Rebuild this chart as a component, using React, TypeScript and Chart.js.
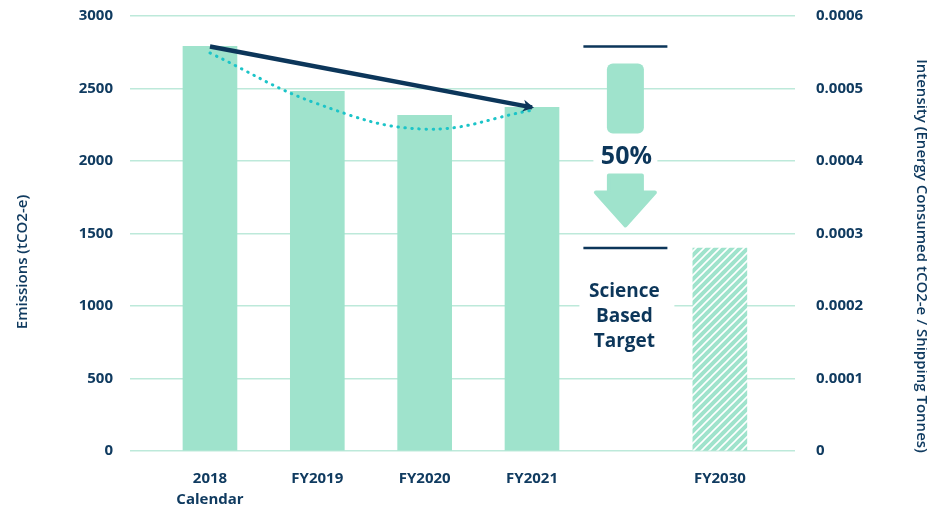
import React, { useEffect, useRef } from 'react';
import { Chart, registerables } from 'chart.js';

Chart.register(...registerables);

const categoryLabels: (string | string[])[] = [['2018', 'Calendar'], 'FY2019', 'FY2020', 'FY2021', 'FY2030'];
const categoryPositions = [0, 1, 2, 3, 4.75];
const emissions = [2790, 2480, 2315, 2370, 1400];
const intensity = [0.000549, 0.000479, 0.000444, 0.00047];
const emissionsTicks = { min: 0, max: 3000, step: 500 };
const intensityTicks = { min: 0, max: 0.0006, step: 0.0001 };
const targetPercent = '50%';
const targetText = ['Science', 'Based', 'Target'];
const leftTitle = 'Emissions (tCO2-e)';
const rightTitle = 'Intensity (Energy Consumed tCO2-e / Shipping Tonnes)';

const MINT = '#9fe3cc';
const NAVY = '#0c365a';
const TEXT = '#103b60';
const GRID = '#bde9da';
const CYAN = '#1cc4c8';
const FONT = '"Open Sans", sans-serif';

function makeHatch(): CanvasPattern | string {
  const tile = document.createElement('canvas');
  tile.width = 8;
  tile.height = 8;
  const c = tile.getContext('2d');
  if (!c) return MINT;
  c.fillStyle = MINT;
  c.fillRect(0, 0, 8, 8);
  c.strokeStyle = '#ffffff';
  c.lineWidth = 1.6;
  c.beginPath();
  c.moveTo(-2, 10);
  c.lineTo(10, -2);
  c.moveTo(-2, 2);
  c.lineTo(2, -2);
  c.moveTo(6, 10);
  c.lineTo(10, 6);
  c.stroke();
  const p = c.createPattern(tile, 'repeat');
  return p || MINT;
}

const arrowHeadPlugin = {
  id: 'arrowHead',
  afterDatasetsDraw(chart: any) {
    const meta = chart.getDatasetMeta(0);
    if (!meta || !meta.data || meta.data.length < 2) return;
    const a = meta.data[0];
    const b = meta.data[meta.data.length - 1];
    const ang = Math.atan2(b.y - a.y, b.x - a.x);
    const ctx = chart.ctx;
    ctx.save();
    ctx.translate(b.x + 2, b.y + 0.4);
    ctx.rotate(ang);
    ctx.fillStyle = NAVY;
    ctx.beginPath();
    ctx.moveTo(0, 0);
    ctx.lineTo(-11, -6);
    ctx.lineTo(-8, 0);
    ctx.lineTo(-11, 6);
    ctx.closePath();
    ctx.fill();
    ctx.restore();
  },
};

const annoX = 3.87;

const targetPlugin = {
  id: 'targetGraphic',
  afterDatasetsDraw(chart: any) {
    const { ctx, scales } = chart;
    const x = scales.x;
    const y = scales.y;
    const cx = x.getPixelForValue(annoX);
    const yTop = y.getPixelForValue(emissions[0]);
    const yBot = y.getPixelForValue(emissions[4]);
    ctx.save();
    ctx.strokeStyle = NAVY;
    ctx.lineWidth = 2.5;
    ctx.beginPath();
    ctx.moveTo(cx - 42, yTop);
    ctx.lineTo(cx + 42, yTop);
    ctx.moveTo(cx - 42, yBot);
    ctx.lineTo(cx + 42, yBot);
    ctx.stroke();

    ctx.fillStyle = MINT;
    ctx.beginPath();
    (ctx as any).roundRect(cx - 18.5, yTop + 17, 37, 70, 6);
    ctx.fill();

    ctx.fillStyle = '#ffffff';
    ctx.fillRect(cx - 32, yTop + 98, 64, 24);
    ctx.fillStyle = NAVY;
    ctx.font = `bold 25px ${FONT}`;
    ctx.textAlign = 'center';
    ctx.textBaseline = 'middle';
    ctx.fillText(targetPercent, cx + 1, yTop + 110);

    ctx.fillStyle = MINT;
    ctx.strokeStyle = MINT;
    ctx.lineJoin = 'round';
    ctx.lineWidth = 4;
    ctx.beginPath();
    ctx.moveTo(cx - 16.5, yTop + 129);
    ctx.lineTo(cx + 16.5, yTop + 129);
    ctx.lineTo(cx + 16.5, yTop + 146);
    ctx.lineTo(cx + 29.5, yTop + 146);
    ctx.lineTo(cx, yTop + 179);
    ctx.lineTo(cx - 29.5, yTop + 146);
    ctx.lineTo(cx - 16.5, yTop + 146);
    ctx.closePath();
    ctx.fill();
    ctx.stroke();

    ctx.fillStyle = '#ffffff';
    ctx.fillRect(cx - 46, yBot + 32, 95, 74);
    ctx.fillStyle = NAVY;
    ctx.font = `bold 19px ${FONT}`;
    targetText.forEach((t, i) => {
      ctx.fillText(t, cx - 1, yBot + 44 + i * 25);
    });
    ctx.restore();
  },
};

const titlePlugin = {
  id: 'axisTitles',
  afterDraw(chart: any) {
    const ctx = chart.ctx;
    ctx.save();
    ctx.fillStyle = TEXT;
    ctx.font = `600 15px ${FONT}`;
    ctx.textAlign = 'center';
    ctx.textBaseline = 'middle';
    ctx.save();
    ctx.translate(23, 262);
    ctx.rotate(-Math.PI / 2);
    ctx.fillText(leftTitle, 0, 0);
    ctx.restore();
    ctx.save();
    ctx.translate(921, 256);
    ctx.rotate(Math.PI / 2);
    ctx.fillText(rightTitle, 0, 0);
    ctx.restore();
    ctx.restore();
  },
};

const tickFont = { family: FONT, size: 15, weight: 700 as any, lineHeight: 1.4 };

export default function App() {
  const ref = useRef<HTMLCanvasElement | null>(null);
  useEffect(() => {
    if (!ref.current) return;
    const hatch = makeHatch();
    const barColors = emissions.map((_, i) => (i === emissions.length - 1 ? hatch : MINT));
    const chart = new Chart(ref.current, {
      type: 'bar',
      data: {
        datasets: [
          {
            type: 'line',
            label: 'Trend',
            data: [
              { x: categoryPositions[0], y: emissions[0] },
              { x: categoryPositions[3], y: emissions[3] },
            ],
            borderColor: NAVY,
            borderWidth: 4.5,
            pointRadius: 0,
            fill: false,
            yAxisID: 'y',
            order: 0,
          } as any,
          {
            type: 'line',
            label: 'Intensity',
            data: intensity.map((v, i) => ({ x: categoryPositions[i], y: v })),
            borderColor: CYAN,
            borderWidth: 3,
            borderDash: [0.5, 6.5],
            borderCapStyle: 'round',
            pointRadius: 0,
            tension: 0.4,
            fill: false,
            yAxisID: 'y1',
            order: 1,
          } as any,
          {
            type: 'bar',
            label: 'Emissions',
            data: emissions.map((v, i) => ({ x: categoryPositions[i], y: v })),
            backgroundColor: barColors as any,
            barThickness: 54,
            yAxisID: 'y',
            order: 2,
          } as any,
        ],
      },
      options: {
        responsive: false,
        animation: false,
        layout: { padding: { top: 16, left: 0, right: 0, bottom: 0 } },
        plugins: { legend: { display: false }, tooltip: { enabled: false } },
        scales: {
          x: {
            type: 'linear',
            min: -0.745,
            max: 5.45,
            offset: false,
            grid: { display: false, drawTicks: false },
            border: { display: false },
            afterBuildTicks: (scale: any) => {
              scale.ticks = categoryPositions.map((v) => ({ value: v }));
            },
            afterFit: (scale: any) => {
              scale.height = 56;
            },
            ticks: {
              autoSkip: false,
              maxRotation: 0,
              padding: 17,
              color: TEXT,
              font: tickFont,
              callback: (_v: any, i: number) => categoryLabels[i],
            },
          },
          y: {
            type: 'linear',
            position: 'left',
            min: emissionsTicks.min,
            max: emissionsTicks.max,
            grid: { color: GRID, lineWidth: 1.5, drawTicks: false },
            border: { display: false },
            afterFit: (scale: any) => {
              scale.width = 130;
              scale.paddingTop = 8;
              scale.paddingBottom = 8;
            },
            ticks: {
              stepSize: emissionsTicks.step,
              padding: 17,
              color: TEXT,
              font: tickFont,
              callback: (v: any) => String(v),
            },
          },
          y1: {
            type: 'linear',
            position: 'right',
            min: intensityTicks.min,
            max: intensityTicks.max,
            grid: { display: false, drawTicks: false },
            border: { display: false },
            afterFit: (scale: any) => {
              scale.width = 132;
              scale.paddingTop = 8;
              scale.paddingBottom = 8;
            },
            ticks: {
              stepSize: intensityTicks.step,
              padding: 21,
              color: TEXT,
              font: tickFont,
              callback: (v: any) => (Number(v) === 0 ? '0' : Number(v).toFixed(4)),
            },
          },
        },
      } as any,
      plugins: [arrowHeadPlugin, targetPlugin, titlePlugin],
    });
    return () => chart.destroy();
  }, []);
  return (
    <div style={{ position: 'absolute', left: 0, top: 0, width: 927, height: 507, background: '#fff' }}>
      <canvas ref={ref} width={927} height={507} style={{ display: 'block' }} />
    </div>
  );
}
